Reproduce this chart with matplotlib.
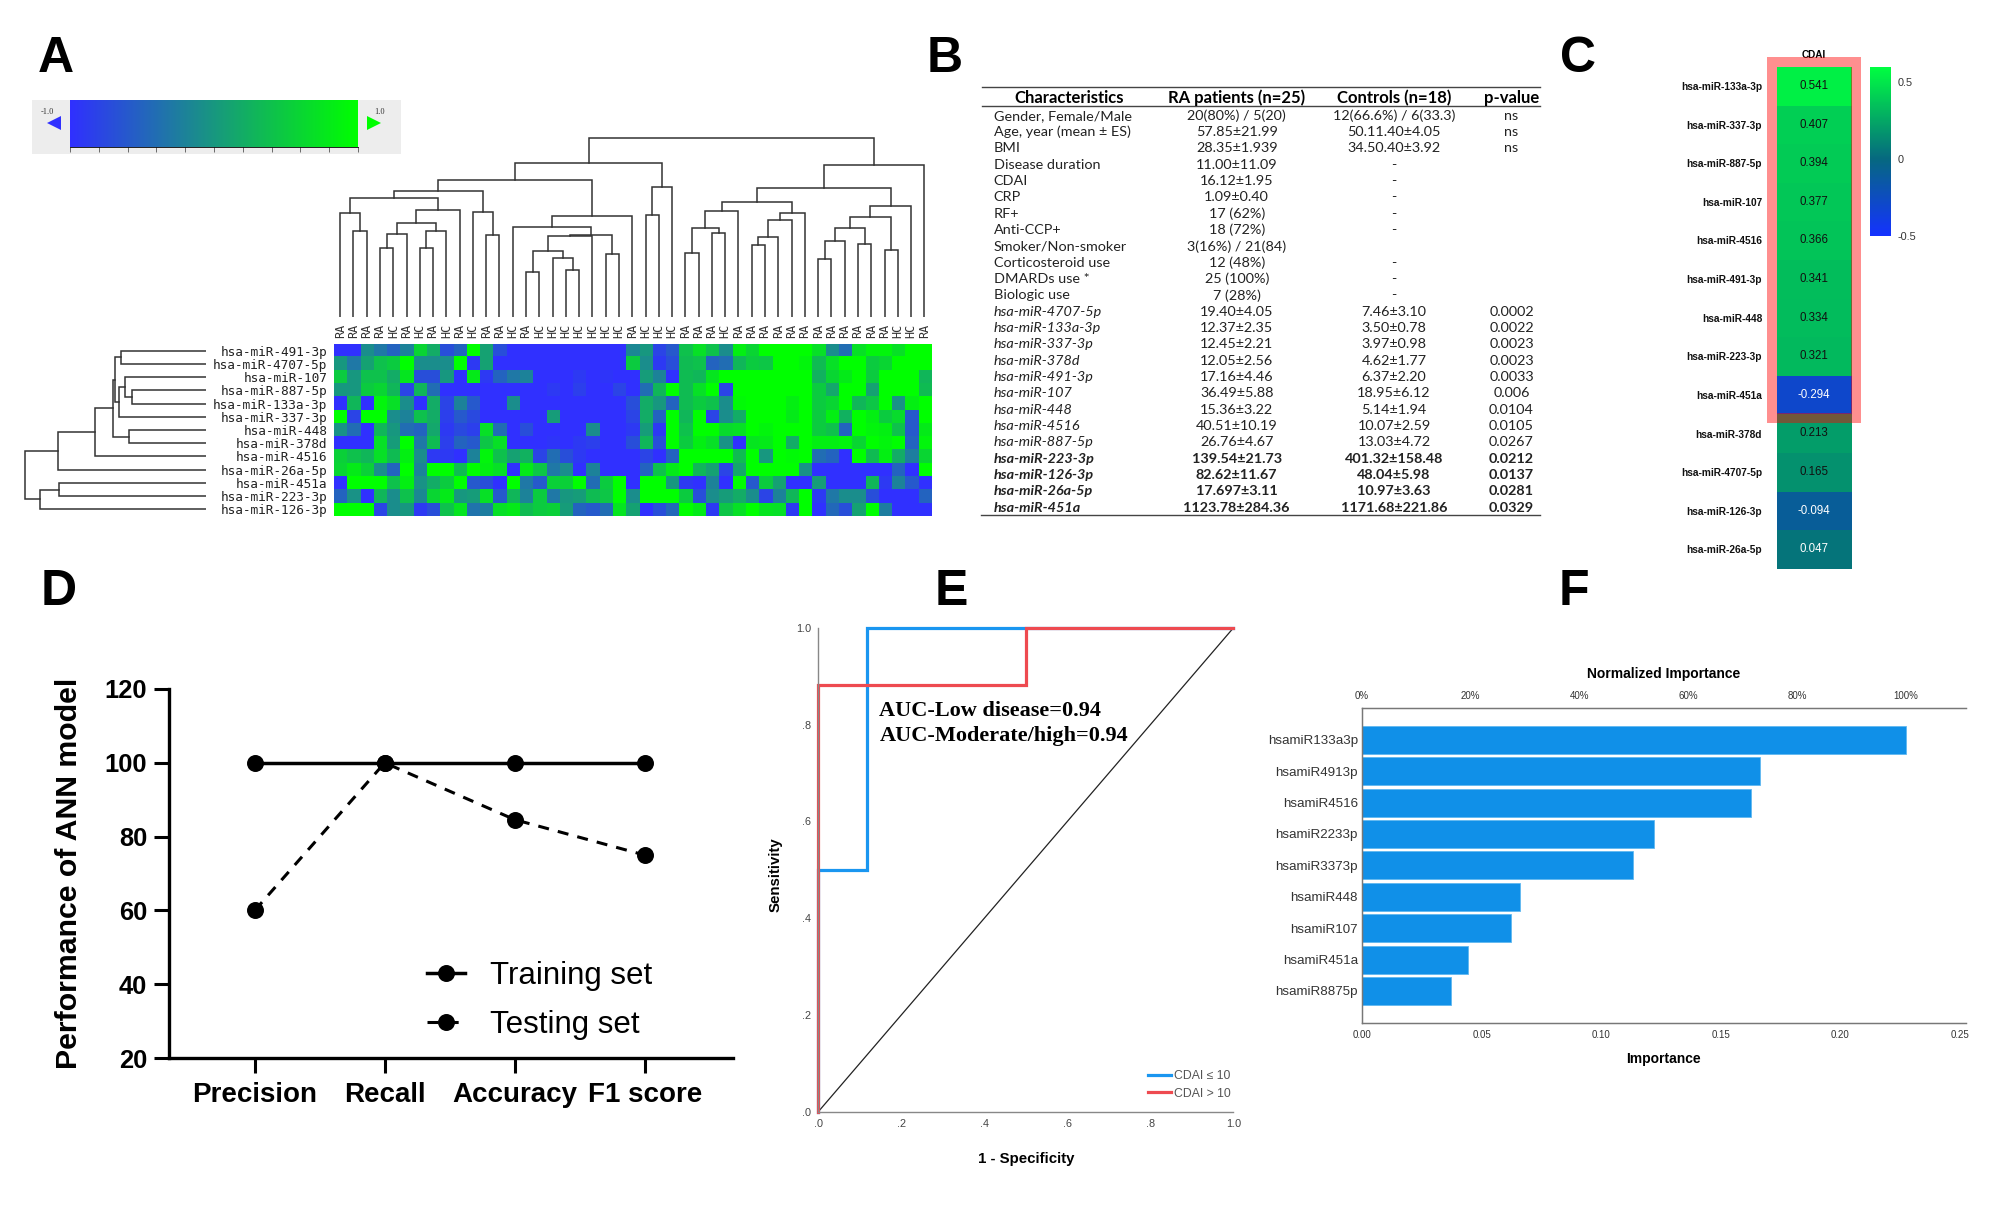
import matplotlib
matplotlib.use('Agg')
import matplotlib.pyplot as plt
import numpy as np
from matplotlib.colors import LinearSegmentedColormap, Normalize
from matplotlib.cm import ScalarMappable
from matplotlib.patches import Rectangle

plt.rcParams['font.family'] = 'Liberation Sans'

W, H = 2000, 1206
PT = 0.72  # one pixel in points at dpi 100

# Panel A data
sample_labels = ['RA', 'RA', 'RA', 'RA', 'HC', 'RA', 'HC', 'RA', 'HC', 'RA', 'HC', 'RA', 'RA', 'HC', 'RA',
                 'HC', 'HC', 'HC', 'HC', 'HC', 'HC', 'HC', 'RA', 'HC', 'HC', 'HC', 'RA', 'RA', 'RA', 'HC',
                 'RA', 'RA', 'RA', 'RA', 'RA', 'RA', 'RA', 'RA', 'RA', 'RA', 'RA', 'RA', 'HC', 'HC', 'RA']
mirna_rows = ['hsa-miR-491-3p', 'hsa-miR-4707-5p', 'hsa-miR-107', 'hsa-miR-887-5p', 'hsa-miR-133a-3p',
              'hsa-miR-337-3p', 'hsa-miR-448', 'hsa-miR-378d', 'hsa-miR-4516', 'hsa-miR-26a-5p',
              'hsa-miR-451a', 'hsa-miR-223-3p', 'hsa-miR-126-3p']
expr_491 = [-1, -1, -.1, -.3, -.5, -.2, .6, .2, -.7, -.5, 1, .1, -.7, -1, -1, -1, -1, -1, -1, -1, -1, -1, -.15,
            0, -.8, -.6, .4, .7, .4, -.1, .85, .6, 1, 1, 1, 1, .7, -.1, -.4, .7, .9, .9, .7, 1, 1]
expr_4707 = [0, -.3, .1, .4, .5, 1, -.1, -.1, -.1, 1, -.9, .1, -1, -1, -1, -1, -1, -1, -1, -1, -1, -1, .5,
             -.1, -.9, -.7, .35, .4, -.5, -.4, .3, .5, .45, 1, 1, .9, .35, .7, 1, 1, .5, .6, 1, 1, 1]
expr_107 = [.5, 0, .4, .4, .2, .75, -.7, -.7, 0, -1, .8, -.9, -.5, -.3, -.2, -1, -1, -1, -.9, -1, -.95, -1, -1,
            .05, -.2, -1, .35, .3, .75, 1, 1, 1, 1, 1, 1, 1, .25, .6, .8, 1, .5, 1, 1, 1, .3]
expr_887 = [0, 0, .5, .6, .3, -.8, .3, -.4, -1, -1, -1, -1, -1, -1, -1, -1, -.9, -1, -.85, -1, -1, -.8, -1,
            -.4, .3, 1, .35, .7, 1, -.8, 1, 1, 1, 1, 1, 1, .5, .15, 1, 1, .1, 1, 1, 1, .35]
expr_133a = [-1, .3, -1, .9, .7, -.1, -1, .2, -.8, -.2, -.6, -1, -1, -.1, -1, -1, -1, -1, -1, -1, -1, -1, -.7,
             .2, 0, -.5, .35, .5, .4, -.1, .95, 1, 1, 1, .85, 1, .5, .6, 1, .3, .45, 1, -.05, .85, 1]
expr_337 = [1, -.8, 1, 1, -.1, -.2, .4, .2, -.85, -.6, -.75, -1, -1, -1, -1, -1, .05, -1, -1, -1, -1, -1, -.8,
            .2, -.5, 1, .3, 1, -.8, -.1, .2, 1, 1, 1, .8, 1, .5, .85, .25, 1, .85, .5, .65, -.6, 1]
expr_448 = [-.05, -.4, -1, .3, 0, -.4, -.5, .15, -.9, -.75, -.85, .7, -.4, -1, -.7, -1, -1, -1, -1, -.1, -1, -1, -.9,
            .05, -.9, 1, .4, 1, 1, .65, .7, 1, .9, 1, 1, 1, .5, .4, -.5, 1, .9, .85, .4, -.6, .8]
expr_378d = [-1, -1, -1, .7, .05, 1, -.3, .35, -.85, -.5, -.6, .45, .7, -1, -1, -1, -.95, -1, -.9, -.85, -1, -1, -.7,
             .3, -.7, 1, .5, .85, .7, -.05, -1, .75, .8, 1, .2, 1, .85, .85, .9, .6, 1, .9, 1, -.5, .9]
expr_4516 = [.55, .4, .3, .7, .35, .85, -.1, -.9, -.9, -1, -.2, .9, .4, .1, .25, -.8, -.4, -.7, -.9, -1, -1, -1, -1,
             -.8, -1, -.5, 1, 1, 1, 1, .35, 1, 0, 1, .95, 1, -.4, -.5, -1, 1, .35, .85, .2, -.25, .6]
expr_26a = [.6, .8, .55, -.1, -.5, 1, -.2, 1, 1, .35, 1, .85, .7, -1, .8, .45, -.3, -.1, -1, -.2, -1, -1, -1,
            -.5, .4, .8, 1, .3, .1, -.8, .15, 1, 1, 1, 1, -.05, -1, -1, -1, -1, -1, -1, -.5, -1, 1]
expr_451a = [-1, 1, 1, 1, .4, .85, -.05, .2, .5, 1, -.6, -.7, -1, 1, -.3, -.6, .55, .55, 1, -.4, .5, 1, -1,
             1, 1, 0, -.9, -1, -.2, -1, 1, -.6, .5, .1, -1, -1, .05, -1, -1, -1, .3, -.9, -.2, -.6, -1]
expr_223 = [-.5, -.05, -1, .3, -.1, .4, -.15, .6, .8, 0, .05, .7, -.6, .3, -.2, .5, -.3, 0, .05, .35, .45, 1, -.1,
            1, 1, 1, .5, -.7, -.1, .05, .2, -.1, -.8, -.2, .3, 1, -.9, -.3, -.1, -.1, -.7, -1, -1, -1, -.5]
expr_126 = [1, 1, 1, -.8, -.1, 0, -.9, -.7, .4, .75, -.35, -.25, .7, .8, .35, .5, .55, .05, -.5, -.6, -.4, .75, .1,
            -1, -.7, -.45, 1, .8, -.9, .45, .7, 1, .75, .7, -.9, 1, -1, -.45, -.7, .1, 1, -.25, -1, -1, -1]
expression = [expr_491, expr_4707, expr_107, expr_887, expr_133a, expr_337, expr_448, expr_378d,
              expr_4516, expr_26a, expr_451a, expr_223, expr_126]

# dendrograms as nested (left, right, height), leaves are column / row numbers
g1 = (0, (1, 2, 86), 103.7)
g2 = (((3, 4, 68.3), 5, 82.7), ((6, 7, 68.3), 8, 86), 93.7)
g4 = (g1, (g2, 9, 107), 119)
g6 = (g4, (10, (11, 12, 81.3), 104.7), 125.7)
g7 = ((14, 15, 45), (16, (17, 18, 47), 58.3), 66)
g9 = ((g7, 19, 80.7), (20, 21, 62.7), 81.3)
g11 = ((13, g9, 89.3), 22, 100.3)
g13 = ((23, 24, 101.3), 25, 130)
left_tree = ((g6, g11, 136.7), g13, 153.3)
r1 = (((26, 27, 63.7), (28, 29, 83.7), 88.3), 30, 106)
r2 = ((((31, 32, 71.7), 33, 79.3), 34, 97), 35, 103.7)
r4 = (((36, 37, 57.3), 38, 76), (39, 40, 72.7), 88.3)
r6 = ((r4, (41, 42, 66.3), 99.3), 43, 110.3)
right_tree = (((r1, r2, 114.7), r6, 129), 44, 151.3)
col_tree = (left_tree, right_tree, 179)

row_a = (0, 1, 84.8)
row_b = ((2, (3, 4, 73.9), 80.6), 5, 87.3)
row_d = ((row_a, row_b, 90.9), (6, 7, 77), 92.7)
row_f = ((row_d, 8, 110.9), 9, 147.9)
row_g = ((10, 11, 147.3), 12, 166)
row_tree = (row_f, row_g, 180.6)

# Panel B data
table_header = ['Characteristics', 'RA patients (n=25)', 'Controls (n=18)', 'p-value']
table_names = ['Gender, Female/Male', 'Age, year (mean ± ES)', 'BMI', 'Disease duration', 'CDAI', 'CRP', 'RF+',
               'Anti-CCP+', 'Smoker/Non-smoker', 'Corticosteroid use', 'DMARDs use *', 'Biologic use',
               'hsa-miR-4707-5p', 'hsa-miR-133a-3p', 'hsa-miR-337-3p', 'hsa-miR-378d', 'hsa-miR-491-3p',
               'hsa-miR-107', 'hsa-miR-448', 'hsa-miR-4516', 'hsa-miR-887-5p', 'hsa-miR-223-3p', 'hsa-miR-126-3p',
               'hsa-miR-26a-5p', 'hsa-miR-451a']
table_ra = ['20(80%) / 5(20)', '57.85±21.99', '28.35±1.939', '11.00±11.09', '16.12±1.95', '1.09±0.40', '17 (62%)',
            '18 (72%)', '3(16%) / 21(84)', '12 (48%)', '25 (100%)', '7 (28%)', '19.40±4.05', '12.37±2.35',
            '12.45±2.21', '12.05±2.56', '17.16±4.46', '36.49±5.88', '15.36±3.22', '40.51±10.19', '26.76±4.67',
            '139.54±21.73', '82.62±11.67', '17.697±3.11', '1123.78±284.36']
table_ctrl = ['12(66.6%) / 6(33.3)', '50.11.40±4.05', '34.50.40±3.92', '-', '-', '-', '-', '-', '', '-', '-', '-',
              '7.46±3.10', '3.50±0.78', '3.97±0.98', '4.62±1.77', '6.37±2.20', '18.95±6.12', '5.14±1.94',
              '10.07±2.59', '13.03±4.72', '401.32±158.48', '48.04±5.98', '10.97±3.63', '1171.68±221.86']
table_p = ['ns', 'ns', 'ns', '', '', '', '', '', '', '', '', '', '0.0002', '0.0022', '0.0023', '0.0023', '0.0033',
           '0.006', '0.0104', '0.0105', '0.0267', '0.0212', '0.0137', '0.0281', '0.0329']

# Panel C data
cdai_labels = ['hsa-miR-133a-3p', 'hsa-miR-337-3p', 'hsa-miR-887-5p', 'hsa-miR-107', 'hsa-miR-4516',
               'hsa-miR-491-3p', 'hsa-miR-448', 'hsa-miR-223-3p', 'hsa-miR-451a', 'hsa-miR-378d',
               'hsa-miR-4707-5p', 'hsa-miR-126-3p', 'hsa-miR-26a-5p']
cdai_values = [0.541, 0.407, 0.394, 0.377, 0.366, 0.341, 0.334, 0.321, -0.294, 0.213, 0.165, -0.094, 0.047]

# Panel D data
metrics = ['Precision', 'Recall', 'Accuracy', 'F1 score']
training_set = [100, 100, 100, 100]
testing_set = [60, 100, 84.6, 75]

# Panel E data
blue_fpr = [0, 0, 0.1176, 0.1176, 1]
blue_tpr = [0, 0.5, 0.5, 1, 1]
red_fpr = [0, 0, 0.5, 0.5, 1]
red_tpr = [0, 0.882, 0.882, 1, 1]

# Panel F data
importance_labels = ['hsamiR133a3p', 'hsamiR4913p', 'hsamiR4516', 'hsamiR2233p', 'hsamiR3373p', 'hsamiR448',
                     'hsamiR107', 'hsamiR451a', 'hsamiR8875p']
importance = [0.2273, 0.1665, 0.1626, 0.1221, 0.1132, 0.0659, 0.0623, 0.0442, 0.0373]

fig = plt.figure(figsize=(W / 100, H / 100), dpi=100)


def px_axes(x0, y0, x1, y1):
    # axes from pixel box, y counted from the top of the image
    return fig.add_axes([x0 / W, 1 - y1 / H, (x1 - x0) / W, (y1 - y0) / H])


def draw_tree(ax, node, vertical=True):
    # returns (position, height) of the node, draws its bracket
    if not isinstance(node, tuple):
        return node, 0
    p1, h1 = draw_tree(ax, node[0], vertical)
    p2, h2 = draw_tree(ax, node[1], vertical)
    h = node[2]
    xs, ys = [p1, p1, p2, p2], [h1, h, h, h2]
    if vertical:
        ax.plot(xs, ys, color='#333333', lw=1.1, solid_joinstyle='miter')
    else:
        ax.plot(ys, xs, color='#333333', lw=1.1, solid_joinstyle='miter')
    return (p1 + p2) / 2, h


# ---- Panel A
hm_cmap = LinearSegmentedColormap.from_list('bg', ['#3030FF', '#00FF00'])
ax = px_axes(333.5, 344, 931, 516)
ax.imshow(np.array(expression), cmap=hm_cmap, vmin=-1, vmax=1, aspect='auto', interpolation='nearest')
ax.set_xticks(range(len(sample_labels)))
ax.set_xticklabels(sample_labels, rotation=90, family='DejaVu Sans Mono', fontsize=8.5, color='#333333')
ax.xaxis.tick_top()
ax.set_yticks(range(len(mirna_rows)))
ax.set_yticklabels(mirna_rows, family='DejaVu Sans Mono', fontsize=9.2, color='#222222')
ax.tick_params(length=0, pad=4.5)
for s in ax.spines.values():
    s.set_visible(False)

ax = px_axes(333.5, 116.7, 931, 316.7)
draw_tree(ax, col_tree)
ax.set_xlim(-0.5, 44.5)
ax.set_ylim(0, 200)
ax.axis('off')

ax = px_axes(6, 344, 206, 516)
draw_tree(ax, row_tree, vertical=False)
ax.set_xlim(200, 0)
ax.set_ylim(12.5, -0.5)
ax.axis('off')

# gray box behind the gradient key
key_bg = px_axes(31.5, 100, 401, 154)
key_bg.set_facecolor('#EDEDED')
key_bg.set_xticks([])
key_bg.set_yticks([])
for s in key_bg.spines.values():
    s.set_visible(False)
ax = px_axes(70, 100, 358, 147)
ax.imshow(np.linspace(-1, 1, 256).reshape(1, -1), cmap=hm_cmap, aspect='auto', extent=[-1, 1, 0, 1])
ax.set_xticks(np.arange(-1, 1.01, 0.2))
ax.set_xticklabels([])
ax.set_yticks([])
ax.tick_params(length=3.5, width=0.6, color='#555555')
for name in ['top', 'left', 'right']:
    ax.spines[name].set_visible(False)
ax.spines['bottom'].set_linewidth(0.6)

# ---- Panel C
cdai_cmap = LinearSegmentedColormap.from_list('cdai', [(0, '#1432FF'), (0.5 / 1.1, '#066880'), (1, '#00FF40')])
cdai_norm = Normalize(-0.5, 0.6)
ax = px_axes(1776.7, 66.8, 1851, 568.6)
ax.imshow(np.array(cdai_values).reshape(-1, 1), cmap=cdai_cmap, norm=cdai_norm, aspect='auto',
          interpolation='nearest')
for i, v in enumerate(cdai_values):
    col = 'white' if v < 0.1 else '#111111'
    ax.text(0, i, f'{v:.3f}', color=col, ha='center', va='center', fontsize=8.3)
ax.set_yticks(range(len(cdai_labels)))
ax.set_yticklabels(cdai_labels, fontweight='bold', fontsize=7.3, color='#111111')
ax.set_xticks([0])
ax.set_xticklabels(['CDAI'], fontweight='bold', fontsize=7.2)
ax.xaxis.tick_top()
ax.tick_params(axis='y', length=0, pad=10.5)
ax.tick_params(axis='x', length=0, pad=5.2)
for s in ax.spines.values():
    s.set_visible(False)

cax = px_axes(1870, 66.8, 1891, 236)
cb = fig.colorbar(ScalarMappable(norm=cdai_norm, cmap=cdai_cmap), cax=cax, ticks=[-0.5, 0, 0.5])
cb.ax.set_yticklabels(['-0.5', '0', '0.5'], fontsize=7.8, color='#333333')
cb.ax.tick_params(length=0, pad=5)
cb.outline.set_visible(False)

# ---- Panel D
ax = px_axes(169, 689, 733, 1058)
x_pos = np.arange(len(metrics))
ax.plot(x_pos, training_set, '-o', color='black', lw=2.5, ms=11.2, label='Training set')
ax.plot(x_pos, testing_set, '--o', color='black', lw=2.2, ms=11.2, dashes=(3.6, 3), label='Testing set')
ax.set_xlim(-0.66, 3.68)
ax.set_ylim(20, 120)
ax.set_xticks(x_pos)
ax.set_xticklabels(metrics, fontweight='bold', fontsize=20)
ax.set_yticks([20, 40, 60, 80, 100, 120])
ax.set_yticklabels([20, 40, 60, 80, 100, 120], fontweight='bold', fontsize=18.4)
ax.tick_params(axis='both', length=10.8, width=2.2)
ax.tick_params(axis='x', pad=6.5)
ax.tick_params(axis='y', pad=5)
for name in ['top', 'right']:
    ax.spines[name].set_visible(False)
for name in ['left', 'bottom']:
    ax.spines[name].set_linewidth(2.4)
ax.set_ylabel('Performance of ANN model', fontweight='bold', fontsize=21.8)
ax.yaxis.set_label_coords(-0.152, 0.5)
ax.legend(loc='lower left', bbox_to_anchor=(0.458, 0.05), frameon=False, fontsize=22.5, handlelength=1.22,
          handletextpad=0.78, labelspacing=0.58, borderpad=0, borderaxespad=0)

# ---- Panel E
ax = px_axes(818.3, 628, 1233.3, 1111.7)
ax.plot([0, 1], [0, 1], color='#222222', lw=0.9)
ax.plot(blue_fpr, blue_tpr, color='#1A96F0', lw=2.3, label='CDAI ≤ 10', solid_joinstyle='miter', clip_on=False)
ax.plot(red_fpr, red_tpr, color='#EE4A50', lw=2.3, label='CDAI > 10', solid_joinstyle='miter', clip_on=False)
ax.set_xlim(0, 1)
ax.set_ylim(0, 1)
ticks = [0, 0.2, 0.4, 0.6, 0.8, 1.0]
tick_text = ['.0', '.2', '.4', '.6', '.8', '1.0']
ax.set_xticks(ticks)
ax.set_xticklabels(tick_text, fontsize=7.8, color='#444444')
ax.set_yticks(ticks)
ax.set_yticklabels(tick_text, fontsize=7.8, color='#444444')
ax.tick_params(length=0, pad=5)
for name in ['top', 'right']:
    ax.spines[name].set_visible(False)
for name in ['left', 'bottom']:
    ax.spines[name].set_color('#888888')
    ax.spines[name].set_linewidth(1)
ax.set_xlabel('1 - Specificity', fontweight='bold', fontsize=10.8)
ax.xaxis.set_label_coords(0.5, -0.083)
ax.set_ylabel('Sensitivity', fontweight='bold', fontsize=10.8)
ax.yaxis.set_label_coords(-0.085, 0.49)
ax.text(0.147, 0.828, 'AUC-Low disease=0.94', family='Liberation Serif', fontweight='bold', fontsize=16,
        va='center', transform=ax.transAxes)
ax.text(0.147, 0.776, 'AUC-Moderate/high=0.94', family='Liberation Serif', fontweight='bold', fontsize=16,
        va='center', transform=ax.transAxes)
leg = ax.legend(loc='lower left', bbox_to_anchor=(0.794, 0.025), frameon=False, fontsize=8.8, handlelength=1.86,
                handletextpad=0.25, labelspacing=0.45, borderpad=0, borderaxespad=0)
for t in leg.get_texts():
    t.set_color('#555555')

# ---- Panel F
ax = px_axes(1362, 708.3, 1965.5, 1022.7)
y_pos = np.arange(len(importance))
ax.barh(y_pos, importance, height=0.89, color='#1090E8', edgecolor='#60B8F0', linewidth=0.6)
ax.set_xlim(0, 0.2523)
ax.set_ylim(9.01, -1.0)
ax.set_yticks(y_pos)
ax.set_yticklabels(importance_labels, fontsize=9.6, color='#333333')
ax.set_xticks([0, 0.05, 0.10, 0.15, 0.20, 0.25])
ax.set_xticklabels(['0.00', '0.05', '0.10', '0.15', '0.20', '0.25'], fontsize=7, color='#333333')
ax.tick_params(axis='y', length=0, pad=3)
ax.tick_params(axis='x', length=0, pad=5)
ax.spines['right'].set_visible(False)
for name in ['top', 'left', 'bottom']:
    ax.spines[name].set_color('#777777')
    ax.spines[name].set_linewidth(1)
ax.set_xlabel('Importance', fontweight='bold', fontsize=10)
ax.xaxis.set_label_coords(0.5, -0.093)
top = ax.twiny()
top.set_xlim(0, 0.2523 / max(importance) * 100)
top.set_xticks([0, 20, 40, 60, 80, 100])
top.set_xticklabels(['0%', '20%', '40%', '60%', '80%', '100%'], fontsize=7, color='#333333')
top.tick_params(length=0, pad=5)
top.spines['right'].set_visible(False)
top.spines['top'].set_color('#777777')
top.spines['left'].set_color('#777777')
top.spines['bottom'].set_color('#777777')
top.set_xlabel('Normalized Importance', fontweight='bold', fontsize=10)
top.xaxis.set_label_coords(0.5, 1.096)

# ---- overlay in pixel coordinates: letters, table, key labels, red box
ov = fig.add_axes([0, 0, 1, 1], zorder=10)
ov.set_xlim(0, W)
ov.set_ylim(H, 0)
ov.axis('off')

for letter, x, y in [('A', 38, 72), ('B', 927, 72), ('C', 1560, 72), ('D', 41, 605), ('E', 935, 605), ('F', 1559, 605)]:
    ov.text(x, y, letter, fontsize=36, fontweight='bold', ha='left', va='baseline')

ov.text(47, 112, '-1.0', family='Liberation Serif', fontsize=6, ha='center', va='center', color='#333333')
ov.text(380, 112, '1.0', family='Liberation Serif', fontsize=6, ha='center', va='center', color='#333333')
ov.plot([54], [122.5], marker='<', ms=9.5, color='#3030FF', mew=0)
ov.plot([373.5], [122.5], marker='>', ms=9.5, color='#00FF00', mew=0)

# table
tb_font = dict(family='Lato', fontsize=10.4, color='#222222', va='center')
col_x = [993.7, 1236.7, 1394, 1511.5]
for x, head in zip([1069, 1237, 1394, 1512], table_header):
    ov.text(x, 98, head, ha='center', family='Lato', fontsize=12, fontweight='bold', va='center')
for i, name in enumerate(table_names):
    y = 115.7 + i * 16.33
    weight = 'bold' if i >= 21 else 'normal'
    style = 'italic' if i >= 12 else 'normal'
    ov.text(col_x[0], y, name, ha='left', fontweight=weight, fontstyle=style, **tb_font)
    ov.text(col_x[1], y, table_ra[i], ha='center', fontweight=weight, **tb_font)
    ov.text(col_x[2], y, table_ctrl[i], ha='center', fontweight=weight, **tb_font)
    ov.text(col_x[3], y, table_p[i], ha='center', fontweight=weight, **tb_font)
for y, (x0, x1) in zip([86.7, 106, 515], [(982, 1540), (982, 1540), (981, 1540)]):
    ov.plot([x0, x1], [y, y], color='#444444', lw=1)

# translucent red frame over the top rows of panel C
ov.add_patch(Rectangle((1771.7, 62), 84.3, 356, fill=False, edgecolor=(1, 0, 0, 0.44), linewidth=10 * PT,
                       joinstyle='miter'))

fig.savefig('out.png', dpi=100)
